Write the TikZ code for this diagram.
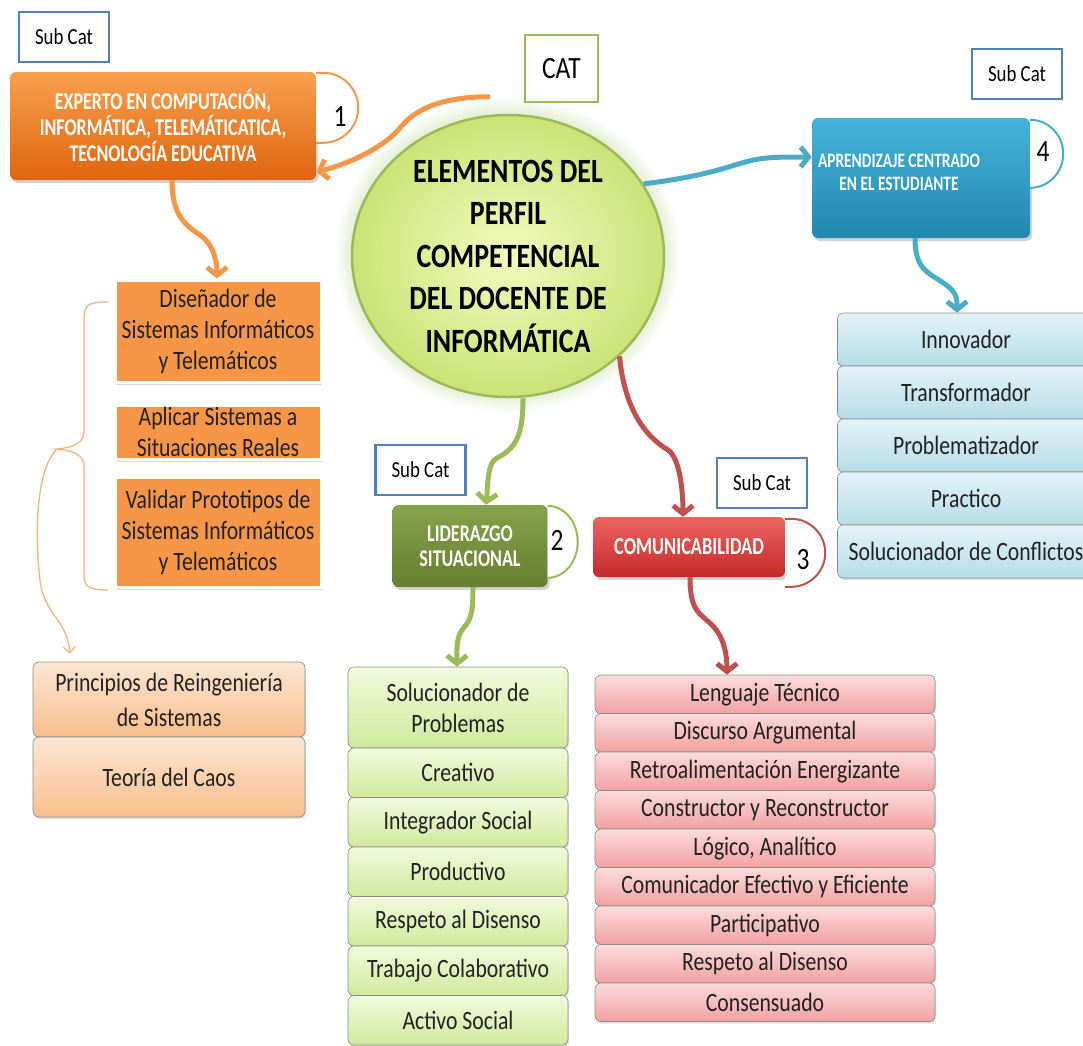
\documentclass[tikz,border=0pt]{standalone}
\usepackage{fontspec}
\setmainfont{Carlito}[FakeStretch=0.82]
\newfontfamily\condfont{Carlito}[FakeStretch=0.75]
\usepackage{tikz}
\usetikzlibrary{shapes.geometric, arrows.meta, shadows}

\definecolor{ohtop}{HTML}{F9A04E}
\definecolor{ohbot}{HTML}{DE650E}
\definecolor{orangeline}{HTML}{F79646}
\definecolor{orangethin}{HTML}{F6B27C}
\definecolor{orangebox}{HTML}{F79646}
\definecolor{peachtop}{HTML}{FDE6D2}
\definecolor{peachbot}{HTML}{F9BE8C}
\definecolor{bhtop}{HTML}{45B4DA}
\definecolor{bhbot}{HTML}{2287B0}
\definecolor{blueline}{HTML}{4BACC6}
\definecolor{bltop}{HTML}{E3F3F8}
\definecolor{blbot}{HTML}{B5DCE8}
\definecolor{ghtop}{HTML}{85A34A}
\definecolor{ghbot}{HTML}{667F30}
\definecolor{greenline}{HTML}{9BBB59}
\definecolor{gltop}{HTML}{F2FADC}
\definecolor{glbot}{HTML}{D0E99C}
\definecolor{rhtop}{HTML}{EE6461}
\definecolor{rhbot}{HTML}{C42A2A}
\definecolor{redline}{HTML}{C0504D}
\definecolor{rltop}{HTML}{FCDCDC}
\definecolor{rlbot}{HTML}{F2A0A0}
\definecolor{elemin}{HTML}{F3FBBE}
\definecolor{elemout}{HTML}{CBE378}
\definecolor{subblue}{HTML}{4F81BD}
\definecolor{itemedge}{HTML}{8C8C8C}
\definecolor{textdark}{HTML}{222222}

\tikzset{
  subcatbox/.style={draw=subblue, line width=2.5pt, fill=white, minimum width=90pt,
    minimum height=50pt, font=\fontsize{23}{26}\selectfont},
  catbox/.style={draw=greenline, line width=2.5pt, fill=white, minimum width=73pt,
    minimum height=67pt, font=\fontsize{31}{34}\selectfont},
  headbox/.style={rounded corners=6pt, text=white, align=center, inner sep=2pt,
    drop shadow={opacity=0.35, shadow xshift=2pt, shadow yshift=-3pt}},
  headtext/.style={text=white, align=center, inner sep=0pt},
  listitem/.style={rounded corners=6pt, draw=itemedge, line width=0.6pt, text=textdark,
    align=center, inner sep=1pt, font=\fontsize{26.5}{31}\selectfont,
    drop shadow={opacity=0.25, shadow xshift=1pt, shadow yshift=-2pt}},
  orangeitem/.style={fill=orangebox, draw=white, line width=3pt, text=textdark,
    align=center, inner sep=1pt, font=\fontsize{26.5}{31}\selectfont,
    drop shadow={opacity=0.3, shadow xshift=1pt, shadow yshift=-3pt}},
  numtab/.style={line width=2pt, fill=white},
  numlabel/.style={font=\fontsize{31}{34}\selectfont},
  linkarrow/.style={line width=5pt, -{Straight Barb[length=8pt, width=20pt]}},
  thinarrow/.style={line width=1.3pt, draw=orangethin, -{Straight Barb[length=6pt, width=12pt]}},
}

\begin{document}
\begin{tikzpicture}[x=1pt, y=-1pt]
\useasboundingbox (0,0) rectangle (1083,1045);

% centre
\foreach \r in {2,4,...,16}
    \fill[greenline!70, opacity=0.05] (508,255) ellipse [x radius={156+\r}, y radius={141+\r}];
\node[ellipse, draw=greenline, line width=2.5pt, inner color=elemin, outer color=elemout,
    minimum width=312pt, minimum height=282pt, inner sep=0pt, align=center,
    font=\bfseries\fontsize{34}{42.5}\selectfont] (elem) at (508,256)
    {ELEMENTOS DEL\\PERFIL\\COMPETENCIAL\\DEL DOCENTE DE\\INFORMÁTICA};
\node[catbox] (cat) at (561.5,68.5) {CAT};

% sub categories
\node[subcatbox] (sc1) at (64,37) {Sub Cat};
\node[subcatbox] (sc2) at (1017,74) {Sub Cat};
\node[subcatbox] (sc3) at (420.5,470) {Sub Cat};
\node[subcatbox] (sc4) at (762,483) {Sub Cat};

\node[headbox, top color=ohtop, bottom color=ohbot, minimum width=306pt, minimum height=108pt,
    font=\condfont\bfseries\fontsize{24}{26}\selectfont] (expert) at (163,126)
    {EXPERTO EN COMPUTACIÓN,\\INFORMÁTICA, TELEMÁTICATICA,\\TECNOLOGÍA EDUCATIVA};
\draw[numtab, draw=orangeline] ([yshift=-1pt]expert.north east) -- ++(7,0)
    arc[start angle=-90, end angle=90, radius=35] -- ++(-7,0);
\node[numlabel] (num1) at (340,117) {1};

\node[headbox, top color=bhtop, bottom color=bhbot, minimum width=218pt, minimum height=120pt] (aprend) at (921,178) {};
\node[headtext, font=\condfont\bfseries\fontsize{20.5}{23}\selectfont] (aprendtext) at (899,172)
    {APRENDIZAJE CENTRADO\\EN EL ESTUDIANTE};
\draw[numtab, draw=blueline] ([yshift=-2pt]aprend.north east)
    arc[start angle=-90, end angle=90, x radius=33, y radius=34];
\node[numlabel] (num4) at (1043,152) {4};

\node[headbox, top color=ghtop, bottom color=ghbot, minimum width=155pt, minimum height=82pt,
    font=\condfont\bfseries\fontsize{24}{25}\selectfont] (lider) at (470,546) {LIDERAZGO\\SITUACIONAL};
\draw[numtab, draw=greenline] ([yshift=-1pt]lider.north east)
    arc[start angle=-90, end angle=90, x radius=30, y radius=36];
\node[numlabel] (num2) at (557,540) {2};

\node[headbox, top color=rhtop, bottom color=rhbot, minimum width=192pt, minimum height=60pt,
    font=\condfont\bfseries\fontsize{24.5}{26}\selectfont] (comun) at (689,547) {COMUNICABILIDAD};
\draw[numtab, draw=redline] ([yshift=-2pt]comun.north east) -- ++(6,0)
    arc[start angle=-90, end angle=90, radius=34] -- ++(-6,0);
\node[numlabel] (num3) at (803,560) {3};

% lists
\foreach \i/\y/\h/\t in {
    1/331/102/{Diseñador de\\Sistemas Informáticos\\y Telemáticos},
    2/432/54/{Aplicar Sistemas a\\Situaciones Reales},
    3/532/110/{Validar Prototipos de\\Sistemas Informáticos\\y Telemáticos}}
    \node[orangeitem, minimum width=206pt, minimum height=\h*1pt] (d\i) at (218,\y) {\t};

\node[listitem, top color=peachtop, bottom color=peachbot, minimum width=272pt, minimum height=75pt,
    font=\fontsize{26.5}{35}\selectfont] (p1) at (169,699.5) {Principios de Reingeniería\\de Sistemas};
\node[listitem, top color=peachtop, bottom color=peachbot, minimum width=272pt, minimum height=80pt]
    (p2) at (169,777) {Teoría del Caos};

\foreach \i/\y/\h/\t in {
    1/707.5/81/{Solucionador de\\Problemas}, 2/772.75/49.5/Creativo,
    3/822.25/49.5/Integrador Social, 4/871.75/49.5/Productivo,
    5/921.25/49.5/Respeto al Disenso, 6/970.75/49.5/Trabajo Colaborativo,
    7/1020.25/49.5/Activo Social}
    \node[listitem, top color=gltop, bottom color=glbot, minimum width=220pt, minimum height=\h*1pt] (g\i) at (458,\y) {\t};

\foreach \t [count=\i] in {Lenguaje Técnico, Discurso Argumental, Retroalimentación Energizante,
    Constructor y Reconstructor, {Lógico, Analítico}, Comunicador Efectivo y Eficiente,
    Participativo, Respeto al Disenso, Consensuado}
    \node[listitem, top color=rltop, bottom color=rlbot, minimum width=340pt, minimum height=38.5pt] (r\i) at (765,{655.75+38.5*\i}) {\t};

\foreach \t [count=\i] in {Innovador, Transformador, Problematizador, Practico, Solucionador de Conflictos}
    \node[listitem, top color=bltop, bottom color=blbot, minimum width=257pt, minimum height=53pt] (b\i) at (966,{286.5+53*\i}) {\t};

% connectors
\draw[linkarrow, draw=orangeline] ([xshift=-18pt,yshift=17pt]elem.north)
    .. controls +(-55,0) and +(12,-15) .. (400,128)
    .. controls +(-12,15) and +(40,-10) .. ([yshift=-46pt]expert.east);
\draw[linkarrow, draw=blueline] (elem.28)
    .. controls +(40,-5) and +(-25,8) .. (735,165)
    .. controls +(25,-8) and +(-40,0) .. ([yshift=21pt]aprend.west);
\draw[linkarrow, draw=greenline] ([xshift=15pt]elem.south)
    .. controls +(0,35) and +(20,-10) .. (497,458)
    .. controls +(-10,5) and +(2,-20) .. ([xshift=16pt]lider.north);
\draw[linkarrow, draw=redline] (elem.-42)
    .. controls +(5,50) and +(-25,-15) .. (668,450)
    .. controls +(12,8) and +(0,-25) .. ([xshift=-6pt]comun.north);

\draw[linkarrow, draw=orangeline] ([xshift=9pt]expert.south)
    .. controls +(0,35) and +(-15,-10) .. (200,235)
    .. controls +(12,8) and +(0,-20) .. ([xshift=-1pt]d1.north);
\draw[linkarrow, draw=blueline] ([xshift=-6pt]aprend.south)
    .. controls +(0,30) and +(-15,-10) .. (942,282)
    .. controls +(15,10) and +(0,-15) .. ([xshift=-9pt]b1.north);
\draw[linkarrow, draw=greenline] ([xshift=3pt]lider.south)
    .. controls +(0,30) and +(8,-10) .. (462,630)
    .. controls +(-6,8) and +(0,-15) .. ([xshift=-1pt]g1.north);
\draw[linkarrow, draw=redline] ([xshift=1pt]comun.south)
    .. controls +(0,35) and +(-12,-12) .. (712,625)
    .. controls +(12,12) and +(0,-20) .. ([xshift=-38pt]r1.north);

% brace round the orange boxes
\draw[line width=1.3pt, orangethin] (108,302) .. controls (90,302) and (84,304) .. (84,318) -- (84,432)
    .. controls (84,444) and (70,448) .. (57,449) .. controls (70,450) and (84,454) .. (84,466)
    -- (84,576) .. controls (84,588) and (92,590) .. (108,590);
\coordinate (bracetip) at (57,449);
\draw[thinarrow] (bracetip) .. controls (35,470) and (35,540) .. (40,580)
    .. controls (44,615) and (68,620) .. ([xshift=37pt, yshift=8pt]p1.north west);

\end{tikzpicture}
\end{document}
